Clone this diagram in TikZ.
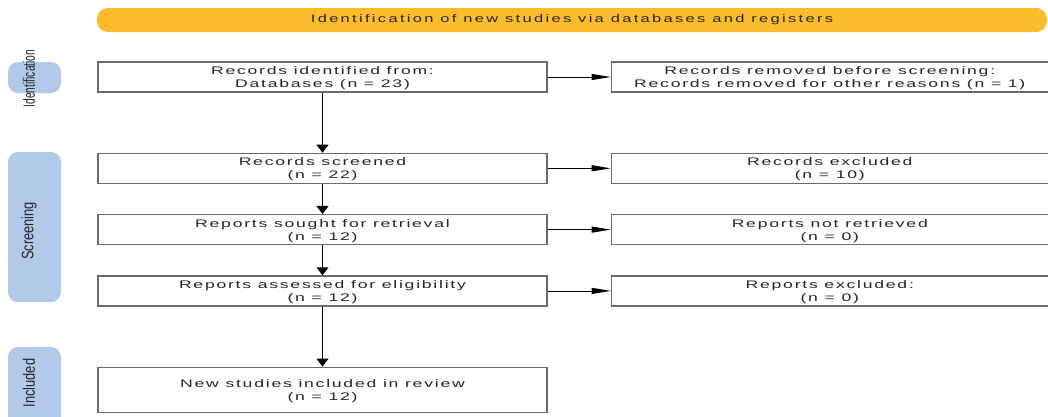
\documentclass[tikz,border=0pt]{standalone}
\usepackage{fontspec}
\setmainfont{Liberation Sans}
\newfontfamily\boxfont[FakeStretch=1.6,LetterSpace=16]{Liberation Sans}
\newfontfamily\bannerfont[FakeStretch=1.5,LetterSpace=21]{Liberation Sans}
\newfontfamily\sidefont[FakeStretch=0.78]{Liberation Sans}
\newfontfamily\sidenarrowfont[FakeStretch=0.62]{Liberation Sans}
\usetikzlibrary{arrows.meta,positioning}
\definecolor{figdark}{gray}{0.15}
\definecolor{figborder}{gray}{0.42}
\definecolor{bannerfill}{HTML}{FBBC2C}
\definecolor{phasefill}{HTML}{B2C9E9}
\tikzset{
  recbox/.style={
    rectangle, draw=figborder, line width=1.3pt, fill=white,
    minimum height=30pt, inner sep=0pt, text depth=0pt,
    align=center, text=figdark,
    font=\boxfont\fontsize{11}{13}\selectfont
  },
  leftbox/.style={recbox, minimum width=449pt},
  rightbox/.style={recbox, minimum width=437pt},
  banner/.style={
    rectangle, rounded corners=11pt, fill=bannerfill,
    minimum width=950pt, minimum height=24pt, inner sep=0pt,
    text=figdark, font=\bannerfont\fontsize{11}{13}\selectfont
  },
  phase/.style={
    rectangle, rounded corners=10pt, fill=phasefill,
    minimum width=53pt, inner sep=0pt
  },
  phaselabel/.style={
    rotate=90, inner sep=0pt, text=figdark,
    font=\sidefont\fontsize{16.5}{17}\selectfont
  },
  downarrow/.style={-{Triangle[length=8pt,width=12pt]}, line width=1pt, draw=black},
  sidearrow/.style={-{Triangle[length=19pt,width=6pt]}, line width=0.8pt, draw=black}
}

\begin{document}
\begin{tikzpicture}[x=1pt, y=-1pt, node distance=30pt]
  \useasboundingbox (0,0) rectangle (1048,416);

  % Title banner
  \node[banner] (title) at (572,20) {Identification of new studies via databases and registers};

  % Phase bars on the left
  \node[phase, minimum height=31pt] (idphase) at (34.5,77.5) {};
  \node[phase, minimum height=150pt] (scphase) at (34.5,227) {};
  \node[phase, minimum height=80pt] (inphase) at (34.5,387) {};
  \node[phaselabel, font=\sidenarrowfont\fontsize{16.5}{17}\selectfont] (idlabel) at (29,78.5) {Identification};
  \node[phaselabel] (sclabel) at (29,231) {Screening};
  \node[phaselabel] (inlabel) at (29,383) {Included};

  % Main column
  \node[leftbox] (identified) at (322.5,77) {Records identified from:\\Databases (n = 23)};
  \node[leftbox, below=60pt of identified] (screened) {Records screened\\(n = 22)};
  \node[leftbox, below=of screened] (sought) {Reports sought for retrieval\\(n = 12)};
  \node[leftbox, below=of sought] (assessed) {Reports assessed for eligibility\\(n = 12)};
  \node[leftbox, minimum height=45pt, below=60pt of assessed] (included) {New studies included in review\\(n = 12)};

  % Side column
  \node[rightbox, right=63pt of identified] (removed) {Records removed before screening:\\Records removed for other reasons (n = 1)};
  \node[rightbox, right=63pt of screened] (excluded) {Records excluded\\(n = 10)};
  \node[rightbox, right=63pt of sought] (notretrieved) {Reports not retrieved\\(n = 0)};
  \node[rightbox, right=63pt of assessed] (repexcluded) {Reports excluded:\\(n = 0)};

  % Downward flow
  \draw[downarrow] (identified) -- (screened);
  \draw[downarrow] (screened) -- (sought);
  \draw[downarrow] (sought) -- (assessed);
  \draw[downarrow] (assessed) -- (included);

  % Side flow
  \draw[sidearrow] (identified) -- (removed);
  \draw[sidearrow] (screened) -- (excluded);
  \draw[sidearrow] (sought) -- (notretrieved);
  \draw[sidearrow] (assessed) -- (repexcluded);

\end{tikzpicture}
\end{document}
